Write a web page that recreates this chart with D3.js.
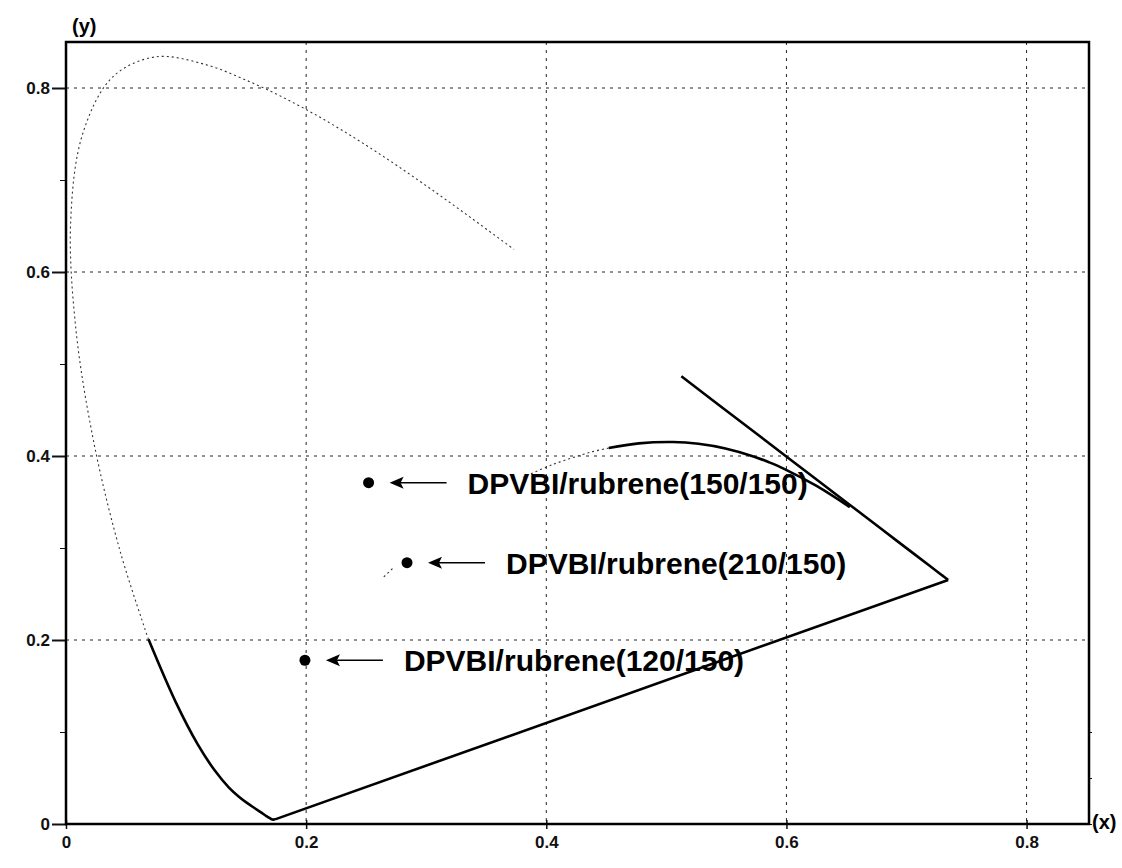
<!DOCTYPE html>
<html>
<head>
<meta charset="utf-8">
<script src="https://cdn.jsdelivr.net/npm/d3@7"></script>
<style>
  body { margin: 0; background: #fff; }
  svg { display: block; font-family: "Liberation Sans", Arial, sans-serif; }
  .grid line { stroke: #222; stroke-width: 1; stroke-dasharray: 3,5; }
  .axis text { font-weight: bold; font-size: 17px; fill: #111; }
  .axis path, .axis line { stroke: #111; }
  .label { font-weight: bold; font-size: 30px; fill: #000; }
</style>
</head>
<body>
<svg id="chart"></svg>
<script>
// CIE 1931 spectral locus (nm, x, y)
const locusNm = [380, 385, 390, 395, 400, 405, 410, 415, 420, 425, 430, 435, 440, 445, 450, 455, 460, 465, 470, 475,
                 480, 485, 490, 495, 500, 505, 510, 515, 520, 525, 530, 535, 540, 545, 550, 555, 560, 565, 570, 575,
                 580, 585, 590, 595, 600, 605, 610, 620, 630, 640, 650, 660, 680, 700];
const locusX = [0.1741, 0.1740, 0.1738, 0.1736, 0.1733, 0.1730, 0.1726, 0.1721, 0.1714, 0.1703, 0.1689, 0.1669, 0.1644, 0.1611, 0.1566, 0.1510, 0.1440, 0.1355, 0.1241, 0.1096,
                0.0913, 0.0687, 0.0454, 0.0235, 0.0082, 0.0039, 0.0139, 0.0389, 0.0743, 0.1142, 0.1547, 0.1929, 0.2296, 0.2658, 0.3016, 0.3373, 0.3731, 0.4087, 0.4441, 0.4788,
                0.5125, 0.5448, 0.5752, 0.6029, 0.6270, 0.6482, 0.6658, 0.6915, 0.7079, 0.7190, 0.7260, 0.7300, 0.7334, 0.7347];
const locusY = [0.0050, 0.0050, 0.0049, 0.0049, 0.0048, 0.0048, 0.0048, 0.0048, 0.0051, 0.0058, 0.0069, 0.0086, 0.0109, 0.0138, 0.0177, 0.0227, 0.0297, 0.0399, 0.0578, 0.0868,
                0.1327, 0.2007, 0.2950, 0.4127, 0.5384, 0.6548, 0.7502, 0.8120, 0.8338, 0.8262, 0.8059, 0.7816, 0.7543, 0.7243, 0.6923, 0.6589, 0.6245, 0.5896, 0.5547, 0.5202,
                0.4866, 0.4544, 0.4242, 0.3965, 0.3725, 0.3514, 0.3340, 0.3083, 0.2920, 0.2809, 0.2740, 0.2700, 0.2666, 0.2653];

// Planckian locus (K, x, y)
const planckK = [1000, 1200, 1400, 1500, 1600, 1800, 2000, 2200, 2500, 2800, 3000, 3500, 4000, 12000, 15000];
const planckX = [0.6528, 0.6251, 0.5985, 0.5857, 0.5732, 0.5492, 0.5267, 0.5056, 0.4770, 0.4520, 0.4369, 0.4053, 0.3805, 0.2719, 0.2637];
const planckY = [0.3444, 0.3674, 0.3858, 0.3931, 0.3993, 0.4082, 0.4133, 0.4152, 0.4137, 0.4086, 0.4041, 0.3907, 0.3768, 0.2776, 0.2674];

// measured colour points
const samples = ["DPVBI/rubrene(150/150)", "DPVBI/rubrene(210/150)", "DPVBI/rubrene(120/150)"];
const sampleX = [0.252, 0.284, 0.199];
const sampleY = [0.371, 0.284, 0.178];

const majorTicks = [0, 0.2, 0.4, 0.6, 0.8];
const minorTicks = [0.1, 0.3, 0.5, 0.7];

const width = 1122, height = 868,
      margin = {top: 42, right: 33, bottom: 44, left: 66};

var x = d3.scaleLinear().domain([0, 0.852]).range([margin.left, width - margin.right]);
var y = d3.scaleLinear().domain([0, 0.85]).range([height - margin.bottom, margin.top]);

var svg = d3.select("#chart").attr("width", width).attr("height", height);

// dashed grid
var grid = svg.append("g").attr("class", "grid");
grid.selectAll(".gx").data(majorTicks.slice(1)).enter().append("line")
    .attr("x1", d => x(d)).attr("x2", d => x(d))
    .attr("y1", y.range()[1]).attr("y2", y.range()[0]);
grid.selectAll(".gy").data(majorTicks.slice(1)).enter().append("line")
    .attr("y1", d => y(d)).attr("y2", d => y(d))
    .attr("x1", x.range()[0]).attr("x2", x.range()[1]);

var fmt = d => d === 0 ? "0" : d3.format(".1f")(d);

svg.append("g")
    .attr("class", "axis")
    .attr("transform", "translate(0," + y(0) + ")")
    .call(d3.axisBottom(x).tickValues(majorTicks).tickFormat(fmt).tickSize(5).tickPadding(7))
    .call(g => g.select(".domain").remove())
    .call(g => g.selectAll(".tick line").attr("y1", -4).attr("stroke-width", 1.5));

svg.append("g")
    .attr("class", "axis")
    .attr("transform", "translate(" + x(0) + ",0)")
    .call(d3.axisLeft(y).tickValues(majorTicks).tickFormat(fmt).tickSize(14).tickPadding(2))
    .call(g => g.select(".domain").remove())
    .call(g => g.selectAll(".tick line").attr("stroke-width", 2));

svg.append("g")
    .attr("class", "axis")
    .attr("transform", "translate(" + x(0) + ",0)")
    .call(d3.axisLeft(y).tickValues(minorTicks).tickFormat("").tickSize(6))
    .call(g => g.select(".domain").remove());

svg.append("g")
    .attr("class", "axis")
    .attr("transform", "translate(" + x.range()[1] + ",0)")
    .call(d3.axisRight(y).tickValues([0, 0.05, 0.1]).tickFormat("").tickSize(3))
    .call(g => g.select(".domain").remove());

// frame
svg.append("rect")
    .attr("x", x.range()[0]).attr("y", y.range()[1])
    .attr("width", x.range()[1] - x.range()[0])
    .attr("height", y.range()[0] - y.range()[1])
    .attr("fill", "none").attr("stroke", "#000").attr("stroke-width", 2.5);

svg.append("text").attr("x", 72).attr("y", 33)
    .style("font-weight", "bold").style("font-size", "20px").text("(y)");
svg.append("text").attr("x", 1092).attr("y", 829)
    .style("font-weight", "bold").style("font-size", "20px").text("(x)");

var smooth = d3.line().x(d => x(d[0])).y(d => y(d[1])).curve(d3.curveCatmullRom.alpha(0.5));
var straight = d3.line().x(d => x(d[0])).y(d => y(d[1]));

function pick(keys, xs, ys, lo, hi) {
  return keys.map((k, i) => [xs[i], ys[i], k]).filter(d => d[2] >= lo && d[2] <= hi);
}

function draw(pts, bold, gen) {
  svg.append("path")
      .datum(pts)
      .attr("d", gen || smooth)
      .attr("fill", "none")
      .attr("stroke", bold ? "#000" : "#333")
      .attr("stroke-width", bold ? 2.6 : 1.1)
      .attr("stroke-dasharray", bold ? null : "2,3")
      .attr("stroke-linejoin", "round");
}

// spectral locus pieces as they show in the scan
draw(pick(locusNm, locusX, locusY, 380, 485), true);
draw(pick(locusNm, locusX, locusY, 485, 562), false);
draw(pick(locusNm, locusX, locusY, 578, 700), true);

// line of purples
var ends = [locusNm.indexOf(700), locusNm.indexOf(380)];
draw(ends.map(i => [locusX[i], locusY[i]]), true, straight);

// Planckian locus
draw(pick(planckK, planckX, planckY, 1000, 2800), true);
draw(pick(planckK, planckX, planckY, 2800, 4000), false);
draw(pick(planckK, planckX, planckY, 12000, 15000), false, straight);

// samples, arrows and labels
var pts = svg.selectAll(".sample")
    .data(samples.map((s, i) => ({name: s, x: sampleX[i], y: sampleY[i]})))
    .enter().append("g")
    .attr("class", "sample")
    .attr("transform", d => "translate(" + x(d.x) + "," + y(d.y) + ")");

pts.append("circle").attr("r", 5.5).attr("fill", "#000");
pts.append("line").attr("x1", 30).attr("x2", 78).attr("y1", 0).attr("y2", 0)
    .attr("stroke", "#000").attr("stroke-width", 1.5);
pts.append("path").attr("d", "M21,0L35,-6L32,0L35,6Z").attr("fill", "#000");
pts.append("text").attr("class", "label")
    .attr("x", 99).attr("y", 11)
    .text(d => d.name);
</script>
</body>
</html>
